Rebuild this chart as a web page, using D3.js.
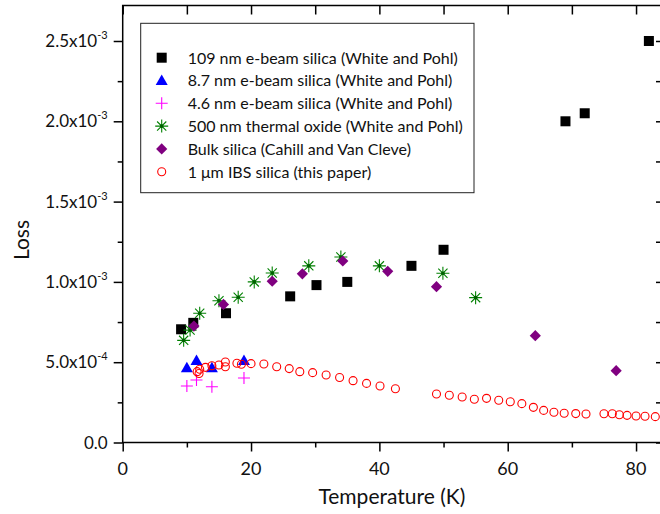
<!DOCTYPE html>
<html>
<head>
<meta charset="utf-8">
<script src="https://cdn.jsdelivr.net/npm/d3@7"></script>
<style>
  html, body { margin: 0; padding: 0; background: #fff; }
  svg { display: block; font-family: Lato, "Noto Sans", sans-serif; }
</style>
</head>
<body>
<svg id="chart" width="660" height="514"></svg>
<script>
// Loss vs temperature for several silica films
const ebeam109 = [[9.1,7.05e-4],[11.0,7.45e-4],[16.1,8.05e-4],[26.1,9.1e-4],[30.2,9.8e-4],[35.0,1.0e-3],[45.0,1.1e-3],[50.0,1.2e-3],[69.0,2.0e-3],[72.0,2.05e-3],[82.0,2.5e-3]];
const ebeam87 = [[10.0,4.65e-4],[11.5,5.1e-4],[13.9,4.65e-4],[18.9,5.1e-4]];
const ebeam46 = [[10.0,3.52e-4],[11.5,3.89e-4],[13.9,3.47e-4],[18.9,4.02e-4]];
const thermal500 = [[9.5,6.36e-4],[10.5,7.0e-4],[12.0,8.05e-4],[15.0,8.83e-4],[18.0,9.04e-4],[20.5,1.0e-3],[23.3,1.055e-3],[29.0,1.10e-3],[34.0,1.155e-3],[40.0,1.10e-3],[49.9,1.054e-3],[55.0,9.02e-4]];
const bulk = [[11.1,7.25e-4],[15.7,8.6e-4],[23.3,1.004e-3],[28.0,1.05e-3],[34.3,1.13e-3],[41.3,1.066e-3],[48.9,9.70e-4],[64.3,6.65e-4],[76.9,4.47e-4]];
const ibs = [[11.6,4.41e-4],[11.9,4.30e-4],[12.0,4.56e-4],[12.9,4.68e-4],[13.9,4.78e-4],[15.0,4.83e-4],[16.0,5.01e-4],[16.0,4.72e-4],[17.8,4.93e-4],[18.5,4.87e-4],[20.0,4.91e-4],[22.0,4.89e-4],[24.0,4.72e-4],[25.95,4.6e-4],[27.6,4.41e-4],[29.6,4.35e-4],[31.7,4.2e-4],[33.8,4.05e-4],[35.9,3.85e-4],[38.0,3.68e-4],[40.1,3.52e-4],[42.5,3.35e-4],[48.9,3.02e-4],[50.9,2.94e-4],[52.9,2.83e-4],[54.8,2.69e-4],[56.7,2.75e-4],[58.6,2.63e-4],[60.4,2.54e-4],[62.2,2.42e-4],[64.0,2.19e-4],[65.6,2.0e-4],[67.2,1.88e-4],[68.8,1.82e-4],[70.6,1.80e-4],[72.2,1.77e-4],[75.0,1.79e-4],[76.3,1.79e-4],[77.4,1.73e-4],[78.6,1.69e-4],[80.0,1.65e-4],[81.4,1.63e-4],[83.0,1.61e-4]];

const seriesNames = [
  "109 nm e-beam silica (White and Pohl)",
  "8.7 nm e-beam silica (White and Pohl)",
  "4.6 nm e-beam silica (White and Pohl)",
  "500 nm thermal oxide (White and Pohl)",
  "Bulk silica (Cahill and Van Cleve)",
  "1 \u03bcm IBS silica (this paper)"
];
const seriesData = [ebeam109, ebeam87, ebeam46, thermal500, bulk, ibs];
const seriesMarkers = ["square", "triangle", "plus", "star", "diamond", "circle"];
const seriesColors = ["#000000", "#0000ff", "#ff00ff", "#008000", "#800080", "#ff0000"];

const xTicks = [0, 20, 40, 60, 80];
const yTicks = [0, 5e-4, 1e-3, 1.5e-3, 2e-3, 2.5e-3];
const yTickLabels = [["0.0", ""], ["5.0x10", "-4"], ["1.0x10", "-3"], ["1.5x10", "-3"], ["2.0x10", "-3"], ["2.5x10", "-3"]];
const xTitle = "Temperature (K)";
const yTitle = "Loss";

const svg = d3.select("#chart");
const pLeft = 122.7, pRight = 663, pTop = 5.5, pBottom = 442.5;
const x = d3.scaleLinear().domain([0, 84.2]).range([pLeft, pRight]);
const y = d3.scaleLinear().domain([0, 2.721e-3]).range([pBottom, pTop]);

const xMinor = d3.range(10, 85, 20);
const yMinor = d3.range(2.5e-4, 2.72e-3, 5e-4);

function styleAxis(g) {
  g.select(".domain").remove();
  g.selectAll("line").attr("stroke", "#000").attr("stroke-width", 1.5);
}

// major / minor ticks on all four sides
svg.append("g").attr("transform", `translate(0,${pBottom})`)
  .call(d3.axisBottom(x).tickValues(xTicks).tickSize(9).tickFormat(""))
  .call(styleAxis);
svg.append("g").attr("transform", `translate(0,${pBottom})`)
  .call(d3.axisBottom(x).tickValues(xMinor).tickSize(5).tickFormat(""))
  .call(styleAxis);
svg.append("g").attr("transform", `translate(0,${pTop})`)
  .call(d3.axisTop(x).tickValues(xTicks.concat(xMinor)).tickSizeInner(-9).tickFormat(""))
  .call(styleAxis);
svg.append("g").attr("transform", `translate(${pLeft},0)`)
  .call(d3.axisLeft(y).tickValues(yTicks).tickSize(9).tickFormat(""))
  .call(styleAxis);
svg.append("g").attr("transform", `translate(${pLeft},0)`)
  .call(d3.axisLeft(y).tickValues(yMinor).tickSize(5).tickFormat(""))
  .call(styleAxis);
svg.append("g").attr("transform", `translate(${pRight},0)`)
  .call(d3.axisRight(y).tickValues(yTicks.concat(yMinor)).tickSizeInner(-7).tickFormat(""))
  .call(styleAxis);

// frame
svg.append("rect").attr("x", pLeft).attr("y", pTop)
  .attr("width", pRight - pLeft).attr("height", pBottom - pTop)
  .attr("fill", "none").attr("stroke", "#000").attr("stroke-width", 1.5);

// tick labels
svg.append("g").selectAll("text").data(xTicks).join("text")
  .attr("x", d => x(d)).attr("y", pBottom + 32)
  .attr("text-anchor", "middle").attr("font-size", 18).attr("fill", "#111")
  .text(d => d);

const yLab = svg.append("g").selectAll("text").data(yTicks).join("text")
  .attr("x", pLeft - 15).attr("y", d => y(d) + 6)
  .attr("text-anchor", "end").attr("font-size", 17).attr("fill", "#111");
yLab.each(function(d, i) {
  const t = d3.select(this);
  const [base, exp] = yTickLabels[i];
  t.append("tspan").text(base);
  if (exp) t.append("tspan").attr("font-size", 11).attr("dy", -8).text(exp);
});

// axis titles
svg.append("text").attr("x", (pLeft + pRight) / 2 - 1).attr("y", pBottom + 61)
  .attr("text-anchor", "middle").attr("font-size", 21).attr("fill", "#111").text(xTitle);
svg.append("text").attr("transform", `translate(29,240) rotate(-90)`)
  .attr("text-anchor", "middle").attr("font-size", 21).attr("fill", "#111").text(yTitle);

// marker shapes
function marker(sel, type, color) {
  if (type === "square") {
    sel.append("rect").attr("x", -5).attr("y", -5).attr("width", 10).attr("height", 10).attr("fill", color);
  } else if (type === "triangle") {
    sel.append("path").attr("d", "M0,-6L6,4.5L-6,4.5Z").attr("fill", color);
  } else if (type === "diamond") {
    sel.append("path").attr("d", "M0,-5.6L5.6,0L0,5.6L-5.6,0Z").attr("fill", color);
  } else if (type === "plus") {
    sel.append("path").attr("d", "M-6,0H6M0,-6V6").attr("stroke", color).attr("stroke-width", 1.1).attr("fill", "none");
  } else if (type === "star") {
    sel.append("path").attr("d", "M-6.5,0H6.5M0,-6.5V6.5M-4.6,-4.6L4.6,4.6M-4.6,4.6L4.6,-4.6")
      .attr("stroke", color).attr("stroke-width", 1.1).attr("fill", "none");
    sel.append("circle").attr("r", 1.8).attr("fill", "#006000");
  } else if (type === "circle") {
    sel.append("circle").attr("r", 4).attr("fill", "none").attr("stroke", color).attr("stroke-width", 1.1);
  }
}

const plot = svg.append("g");
seriesData.forEach((data, i) => {
  plot.append("g").selectAll("g").data(data).join("g")
    .attr("transform", d => `translate(${x(d[0])},${y(d[1])})`)
    .each(function() { marker(d3.select(this), seriesMarkers[i], seriesColors[i]); });
});

// legend
const legend = svg.append("g");
legend.append("rect").attr("x", 140.7).attr("y", 23.3).attr("width", 333.3).attr("height", 169.4)
  .attr("fill", "#fff").attr("stroke", "#222").attr("stroke-width", 1);
seriesNames.forEach((name, i) => {
  const cy = 57.7 + i * 22.8;
  const g = legend.append("g").attr("transform", `translate(161.7,${cy})`);
  marker(g, seriesMarkers[i], seriesColors[i]);
  legend.append("text").attr("x", 187.7).attr("y", cy + 5.8)
    .attr("font-size", 16).attr("fill", "#111").text(name);
});
</script>
</body>
</html>
